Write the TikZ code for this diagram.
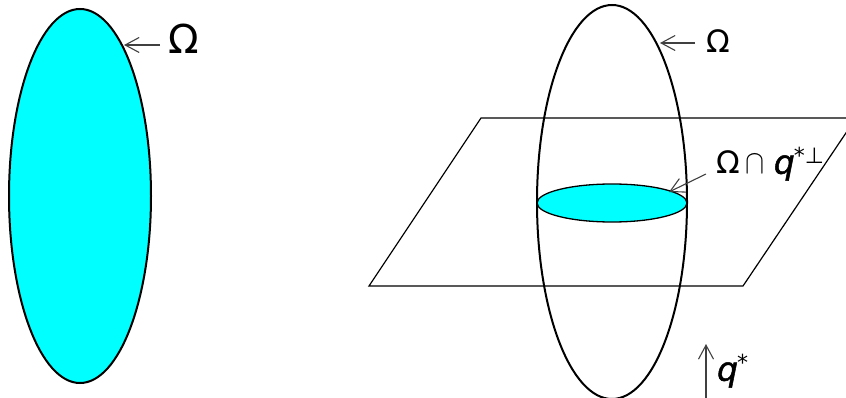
\documentclass[tikz,border=0pt]{standalone}
\usepackage{graphicx}
\usepackage{fontspec}
\setmainfont{DejaVu Sans}
\newfontfamily\qfont[FakeBold=1.5,FakeSlant=0.2]{DejaVu Sans}
\usetikzlibrary{shapes.geometric,arrows.meta}
\definecolor{bodycyan}{RGB}{0,255,255}
\tikzset{
  bodyshape/.style={ellipse, draw=black, line width=2pt, inner sep=0pt},
  sliceshape/.style={ellipse, draw=black, line width=1.3pt, inner sep=0pt},
  pointer/.style={-{Straight Barb[length=14pt,width=15pt]}, draw=black!75, line width=1.1pt},
  planeline/.style={draw=black, line width=1.2pt},
  biglabel/.style={inner sep=0pt, font=\fontsize{40}{40}\selectfont},
  midlabel/.style={inner sep=0pt, font=\fontsize{31}{31}\selectfont}
}
\begin{document}
\begin{tikzpicture}[x=1pt,y=-1pt]
  \useasboundingbox (0,0) rectangle (846,398);
  \clip (0,0) rectangle (846,398);
  % left body
  \node[bodyshape, fill=bodycyan, minimum width=142pt, minimum height=374pt] (bodyL) at (80,196) {};
  \node[biglabel] (omegaL) at (184,39) {Ω};
  \coordinate (tipL) at (124,45);
  \coordinate (tailL) at (160,45);
  \draw[pointer] (tailL) -- (tipL);
  % plane
  \coordinate (planeA) at (369,286);
  \coordinate (planeB) at (743,286);
  \coordinate (planeC) at (856,118);
  \coordinate (planeD) at (481,118);
  \draw[planeline] (planeA) -- (planeB) -- (planeC) -- (planeD) -- cycle;
  % right body and slice
  \node[bodyshape, minimum width=150pt, minimum height=394pt] (bodyR) at (612,202) {};
  \node[sliceshape, fill=bodycyan, minimum width=150pt, minimum height=38pt] (slice) at (612,203) {};
  \node[midlabel] (omegaR) at (718,41) {Ω};
  \coordinate (tipR) at (660,43);
  \coordinate (tailR) at (695,43);
  \draw[pointer] (tailR) -- (tipR);
  \node[midlabel, anchor=west] (sliceLabel) at (716,164) {Ω\hspace{6pt}\scalebox{1.15}[1.35]{$\cap$}\hspace{7pt}{\fontsize{33}{33}\qfont q}\hspace{1pt}\raisebox{10pt}{\fontsize{22}{22}\selectfont *⊥}};
  \coordinate (tipS) at (669,192);
  \coordinate (tailS) at (706,174);
  \draw[pointer] (tailS) -- (tipS);
  % direction
  \coordinate (tailQ) at (706,398);
  \coordinate (tipQ) at (706,344);
  \draw[pointer] (tailQ) -- (tipQ);
  \node[midlabel, anchor=west] (qLabel) at (715,371) {{\fontsize{33}{33}\qfont q}\hspace{1pt}\raisebox{10pt}{\fontsize{22}{22}\selectfont *}};
\end{tikzpicture}
\end{document}
